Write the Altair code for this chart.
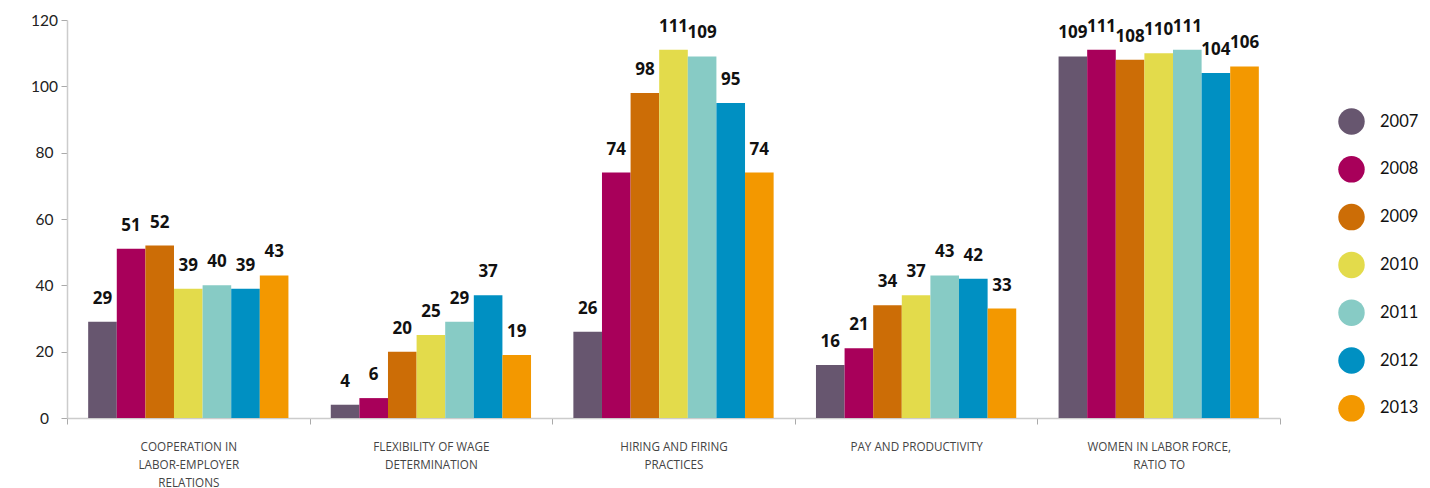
import altair as alt
import pandas as pd

categories = [
    "COOPERATION IN\nLABOR-EMPLOYER\nRELATIONS",
    "FLEXIBILITY OF WAGE\nDETERMINATION",
    "HIRING AND FIRING\nPRACTICES",
    "PAY AND PRODUCTIVITY",
    "WOMEN IN LABOR FORCE,\nRATIO TO",
]
years = ["2007", "2008", "2009", "2010", "2011", "2012", "2013"]
colors = ["#67566f", "#a8005a", "#cc6d06", "#e3db4b", "#87cbc5", "#0090c2", "#f39800"]

values = {
    categories[0]: [29, 51, 52, 39, 40, 39, 43],
    categories[1]: [4, 6, 20, 25, 29, 37, 19],
    categories[2]: [26, 74, 98, 111, 109, 95, 74],
    categories[3]: [16, 21, 34, 37, 43, 42, 33],
    categories[4]: [109, 111, 108, 110, 111, 104, 106],
}

rows = []
for c in categories:
    for y, v in zip(years, values[c]):
        rows.append({"category": c, "year": y, "value": v})
df = pd.DataFrame(rows)

x = alt.X(
    "category:N",
    sort=categories,
    scale=alt.Scale(paddingInner=0, paddingOuter=0),
    axis=alt.Axis(
        title=None,
        labelAngle=0,
        labelExpr="split(datum.label, '\\n')",
        labelFont="Open Sans",
        labelFontSize=11.7,
        labelColor="#444444",
        labelLineHeight=18,
        labelPadding=17,
        labelBaseline="top",
        tickBand="extent",
        tickSize=6,
        tickColor="#aaaaaa",
        domainColor="#cccccc",
        domainWidth=1.5,
    ),
)
xo = alt.XOffset(
    "year:N",
    sort=years,
    scale=alt.Scale(paddingInner=0, paddingOuter=0.74),
)
y = alt.Y(
    "value:Q",
    scale=alt.Scale(domain=[0, 120], nice=False),
    axis=alt.Axis(
        title=None,
        values=[0, 20, 40, 60, 80, 100, 120],
        grid=False,
        labelFont="Lato",
        labelFontSize=15.5,
        labelColor="#222222",
        labelAlign="center",
        labelPadding=17,
        tickSize=6,
        tickColor="#aaaaaa",
        domainColor="#cccccc",
        domainWidth=1.5,
    ),
)
color = alt.Color(
    "year:N",
    sort=years,
    scale=alt.Scale(domain=years, range=colors),
    legend=alt.Legend(
        title=None,
        orient="none",
        legendX=1271,
        legendY=88,
        symbolType="circle",
        symbolSize=700,
        symbolStrokeWidth=0,
        symbolOpacity=1,
        labelFont="Lato",
        labelFontSize=16.5,
        labelColor="#111111",
        labelOffset=15,
        rowPadding=20.8,
    ),
)

bars = alt.Chart(df).mark_bar().encode(x=x, xOffset=xo, y=y, color=color)
labels = alt.Chart(df).mark_text(
    font="Open Sans", fontWeight="bold", fontSize=17, color="#111111",
    baseline="alphabetic", dy=-18,
).encode(
    x=alt.X("category:N", sort=categories),
    xOffset=alt.XOffset("year:N", sort=years),
    y="value:Q",
    text="value:Q",
)

chart = (
    alt.layer(bars, labels)
    .properties(
        width=1213,
        height=398,
        autosize=alt.AutoSizeParams(type="none"),
        padding={"left": 59, "top": 12, "right": 142, "bottom": 78},
    )
    .configure_view(stroke=None)
)
chart.save("out.html", embed_options={"renderer": "svg", "actions": False})
